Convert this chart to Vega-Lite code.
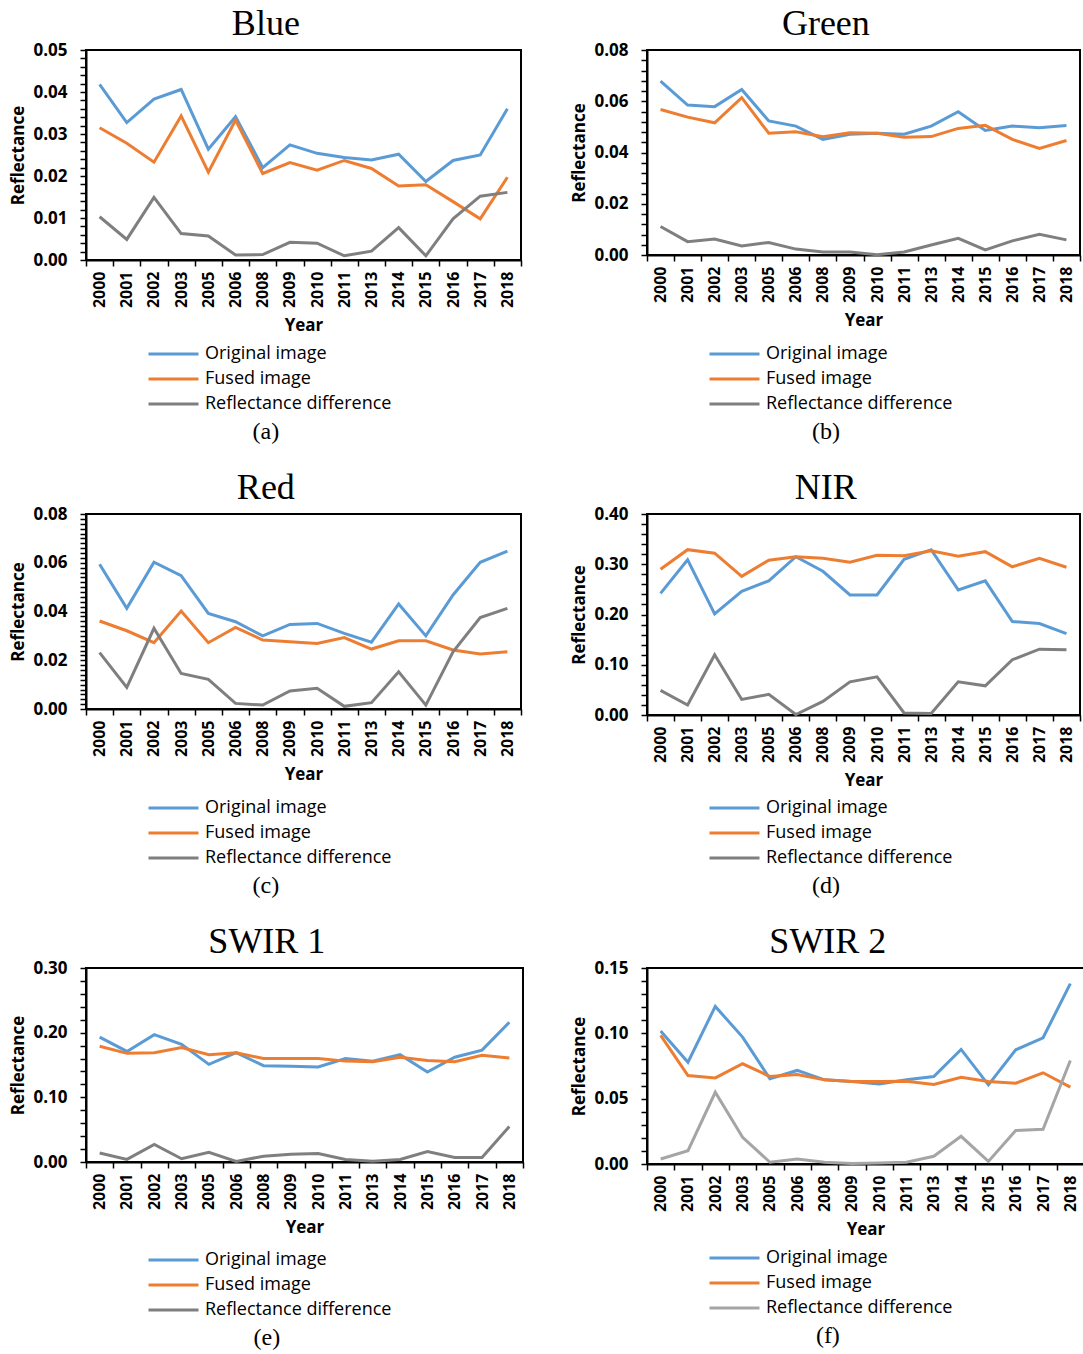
{
  "$schema": "https://vega.github.io/schema/vega-lite/v6.json",
  "padding": {"left": 8, "top": 5, "right": 0, "bottom": 0},
  "background": "white",
  "data": {"values": [
    {"band": "Blue", "year": "2000", "Original image": 0.0418, "Fused image": 0.0315, "Reflectance difference": 0.0103},
    {"band": "Blue", "year": "2001", "Original image": 0.0327, "Fused image": 0.0278, "Reflectance difference": 0.0049},
    {"band": "Blue", "year": "2002", "Original image": 0.0383, "Fused image": 0.0233, "Reflectance difference": 0.0149},
    {"band": "Blue", "year": "2003", "Original image": 0.0406, "Fused image": 0.0343, "Reflectance difference": 0.0063},
    {"band": "Blue", "year": "2005", "Original image": 0.0264, "Fused image": 0.0209, "Reflectance difference": 0.0057},
    {"band": "Blue", "year": "2006", "Original image": 0.0341, "Fused image": 0.0333, "Reflectance difference": 0.0012},
    {"band": "Blue", "year": "2008", "Original image": 0.0220, "Fused image": 0.0206, "Reflectance difference": 0.0013},
    {"band": "Blue", "year": "2009", "Original image": 0.0274, "Fused image": 0.0232, "Reflectance difference": 0.0042},
    {"band": "Blue", "year": "2010", "Original image": 0.0254, "Fused image": 0.0214, "Reflectance difference": 0.0040},
    {"band": "Blue", "year": "2011", "Original image": 0.0244, "Fused image": 0.0237, "Reflectance difference": 0.0010},
    {"band": "Blue", "year": "2013", "Original image": 0.0238, "Fused image": 0.0218, "Reflectance difference": 0.0021},
    {"band": "Blue", "year": "2014", "Original image": 0.0252, "Fused image": 0.0176, "Reflectance difference": 0.0077},
    {"band": "Blue", "year": "2015", "Original image": 0.0187, "Fused image": 0.0179, "Reflectance difference": 0.0010},
    {"band": "Blue", "year": "2016", "Original image": 0.0237, "Fused image": 0.0139, "Reflectance difference": 0.0098},
    {"band": "Blue", "year": "2017", "Original image": 0.0250, "Fused image": 0.0098, "Reflectance difference": 0.0152},
    {"band": "Blue", "year": "2018", "Original image": 0.0360, "Fused image": 0.0197, "Reflectance difference": 0.0161},

    {"band": "Green", "year": "2000", "Original image": 0.0679, "Fused image": 0.0568, "Reflectance difference": 0.0111},
    {"band": "Green", "year": "2001", "Original image": 0.0585, "Fused image": 0.0538, "Reflectance difference": 0.0052},
    {"band": "Green", "year": "2002", "Original image": 0.0579, "Fused image": 0.0516, "Reflectance difference": 0.0062},
    {"band": "Green", "year": "2003", "Original image": 0.0646, "Fused image": 0.0614, "Reflectance difference": 0.0035},
    {"band": "Green", "year": "2005", "Original image": 0.0523, "Fused image": 0.0475, "Reflectance difference": 0.0049},
    {"band": "Green", "year": "2006", "Original image": 0.0503, "Fused image": 0.0481, "Reflectance difference": 0.0023},
    {"band": "Green", "year": "2008", "Original image": 0.0451, "Fused image": 0.0462, "Reflectance difference": 0.0012},
    {"band": "Green", "year": "2009", "Original image": 0.0471, "Fused image": 0.0477, "Reflectance difference": 0.0012},
    {"band": "Green", "year": "2010", "Original image": 0.0475, "Fused image": 0.0475, "Reflectance difference": 0.0001},
    {"band": "Green", "year": "2011", "Original image": 0.0471, "Fused image": 0.0460, "Reflectance difference": 0.0012},
    {"band": "Green", "year": "2013", "Original image": 0.0503, "Fused image": 0.0462, "Reflectance difference": 0.0039},
    {"band": "Green", "year": "2014", "Original image": 0.0559, "Fused image": 0.0494, "Reflectance difference": 0.0065},
    {"band": "Green", "year": "2015", "Original image": 0.0486, "Fused image": 0.0506, "Reflectance difference": 0.0020},
    {"band": "Green", "year": "2016", "Original image": 0.0503, "Fused image": 0.0451, "Reflectance difference": 0.0055},
    {"band": "Green", "year": "2017", "Original image": 0.0497, "Fused image": 0.0416, "Reflectance difference": 0.0081},
    {"band": "Green", "year": "2018", "Original image": 0.0505, "Fused image": 0.0447, "Reflectance difference": 0.0059},

    {"band": "Red", "year": "2000", "Original image": 0.0594, "Fused image": 0.0361, "Reflectance difference": 0.0231},
    {"band": "Red", "year": "2001", "Original image": 0.0413, "Fused image": 0.0321, "Reflectance difference": 0.0089},
    {"band": "Red", "year": "2002", "Original image": 0.0602, "Fused image": 0.0272, "Reflectance difference": 0.0331},
    {"band": "Red", "year": "2003", "Original image": 0.0547, "Fused image": 0.0402, "Reflectance difference": 0.0146},
    {"band": "Red", "year": "2005", "Original image": 0.0392, "Fused image": 0.0272, "Reflectance difference": 0.0122},
    {"band": "Red", "year": "2006", "Original image": 0.0358, "Fused image": 0.0335, "Reflectance difference": 0.0023},
    {"band": "Red", "year": "2008", "Original image": 0.0300, "Fused image": 0.0283, "Reflectance difference": 0.0016},
    {"band": "Red", "year": "2009", "Original image": 0.0347, "Fused image": 0.0276, "Reflectance difference": 0.0074},
    {"band": "Red", "year": "2010", "Original image": 0.0351, "Fused image": 0.0269, "Reflectance difference": 0.0085},
    {"band": "Red", "year": "2011", "Original image": 0.0310, "Fused image": 0.0293, "Reflectance difference": 0.0011},
    {"band": "Red", "year": "2013", "Original image": 0.0274, "Fused image": 0.0246, "Reflectance difference": 0.0026},
    {"band": "Red", "year": "2014", "Original image": 0.0431, "Fused image": 0.0280, "Reflectance difference": 0.0153},
    {"band": "Red", "year": "2015", "Original image": 0.0300, "Fused image": 0.0280, "Reflectance difference": 0.0016},
    {"band": "Red", "year": "2016", "Original image": 0.0468, "Fused image": 0.0242, "Reflectance difference": 0.0235},
    {"band": "Red", "year": "2017", "Original image": 0.0602, "Fused image": 0.0226, "Reflectance difference": 0.0375},
    {"band": "Red", "year": "2018", "Original image": 0.0648, "Fused image": 0.0235, "Reflectance difference": 0.0413},

    {"band": "NIR", "year": "2000", "Original image": 0.242, "Fused image": 0.290, "Reflectance difference": 0.049},
    {"band": "NIR", "year": "2001", "Original image": 0.309, "Fused image": 0.329, "Reflectance difference": 0.020},
    {"band": "NIR", "year": "2002", "Original image": 0.201, "Fused image": 0.322, "Reflectance difference": 0.120},
    {"band": "NIR", "year": "2003", "Original image": 0.246, "Fused image": 0.276, "Reflectance difference": 0.031},
    {"band": "NIR", "year": "2005", "Original image": 0.267, "Fused image": 0.308, "Reflectance difference": 0.041},
    {"band": "NIR", "year": "2006", "Original image": 0.315, "Fused image": 0.315, "Reflectance difference": 0.001},
    {"band": "NIR", "year": "2008", "Original image": 0.286, "Fused image": 0.312, "Reflectance difference": 0.027},
    {"band": "NIR", "year": "2009", "Original image": 0.239, "Fused image": 0.304, "Reflectance difference": 0.066},
    {"band": "NIR", "year": "2010", "Original image": 0.239, "Fused image": 0.318, "Reflectance difference": 0.076},
    {"band": "NIR", "year": "2011", "Original image": 0.310, "Fused image": 0.317, "Reflectance difference": 0.004},
    {"band": "NIR", "year": "2013", "Original image": 0.329, "Fused image": 0.327, "Reflectance difference": 0.003},
    {"band": "NIR", "year": "2014", "Original image": 0.249, "Fused image": 0.316, "Reflectance difference": 0.066},
    {"band": "NIR", "year": "2015", "Original image": 0.267, "Fused image": 0.325, "Reflectance difference": 0.058},
    {"band": "NIR", "year": "2016", "Original image": 0.186, "Fused image": 0.295, "Reflectance difference": 0.110},
    {"band": "NIR", "year": "2017", "Original image": 0.182, "Fused image": 0.312, "Reflectance difference": 0.131},
    {"band": "NIR", "year": "2018", "Original image": 0.162, "Fused image": 0.294, "Reflectance difference": 0.130},

    {"band": "SWIR 1", "year": "2000", "Original image": 0.193, "Fused image": 0.179, "Reflectance difference": 0.014},
    {"band": "SWIR 1", "year": "2001", "Original image": 0.171, "Fused image": 0.168, "Reflectance difference": 0.004},
    {"band": "SWIR 1", "year": "2002", "Original image": 0.197, "Fused image": 0.169, "Reflectance difference": 0.027},
    {"band": "SWIR 1", "year": "2003", "Original image": 0.182, "Fused image": 0.177, "Reflectance difference": 0.005},
    {"band": "SWIR 1", "year": "2005", "Original image": 0.151, "Fused image": 0.166, "Reflectance difference": 0.015},
    {"band": "SWIR 1", "year": "2006", "Original image": 0.169, "Fused image": 0.169, "Reflectance difference": 0.001},
    {"band": "SWIR 1", "year": "2008", "Original image": 0.149, "Fused image": 0.160, "Reflectance difference": 0.009},
    {"band": "SWIR 1", "year": "2009", "Original image": 0.148, "Fused image": 0.160, "Reflectance difference": 0.012},
    {"band": "SWIR 1", "year": "2010", "Original image": 0.147, "Fused image": 0.160, "Reflectance difference": 0.013},
    {"band": "SWIR 1", "year": "2011", "Original image": 0.160, "Fused image": 0.156, "Reflectance difference": 0.004},
    {"band": "SWIR 1", "year": "2013", "Original image": 0.156, "Fused image": 0.155, "Reflectance difference": 0.001},
    {"band": "SWIR 1", "year": "2014", "Original image": 0.166, "Fused image": 0.162, "Reflectance difference": 0.004},
    {"band": "SWIR 1", "year": "2015", "Original image": 0.139, "Fused image": 0.157, "Reflectance difference": 0.016},
    {"band": "SWIR 1", "year": "2016", "Original image": 0.162, "Fused image": 0.155, "Reflectance difference": 0.007},
    {"band": "SWIR 1", "year": "2017", "Original image": 0.173, "Fused image": 0.165, "Reflectance difference": 0.007},
    {"band": "SWIR 1", "year": "2018", "Original image": 0.216, "Fused image": 0.161, "Reflectance difference": 0.055},

    {"band": "SWIR 2", "year": "2000", "Original image": 0.1017, "Fused image": 0.0984, "Reflectance difference": 0.0038},
    {"band": "SWIR 2", "year": "2001", "Original image": 0.0779, "Fused image": 0.0677, "Reflectance difference": 0.0102},
    {"band": "SWIR 2", "year": "2002", "Original image": 0.1206, "Fused image": 0.0659, "Reflectance difference": 0.0549},
    {"band": "SWIR 2", "year": "2003", "Original image": 0.0971, "Fused image": 0.0767, "Reflectance difference": 0.0204},
    {"band": "SWIR 2", "year": "2005", "Original image": 0.0652, "Fused image": 0.0670, "Reflectance difference": 0.0013},
    {"band": "SWIR 2", "year": "2006", "Original image": 0.0716, "Fused image": 0.0685, "Reflectance difference": 0.0038},
    {"band": "SWIR 2", "year": "2008", "Original image": 0.0644, "Fused image": 0.0644, "Reflectance difference": 0.0013},
    {"band": "SWIR 2", "year": "2009", "Original image": 0.0631, "Fused image": 0.0631, "Reflectance difference": 0.0003},
    {"band": "SWIR 2", "year": "2010", "Original image": 0.0613, "Fused image": 0.0631, "Reflectance difference": 0.0008},
    {"band": "SWIR 2", "year": "2011", "Original image": 0.0644, "Fused image": 0.0634, "Reflectance difference": 0.0013},
    {"band": "SWIR 2", "year": "2013", "Original image": 0.0670, "Fused image": 0.0608, "Reflectance difference": 0.0059},
    {"band": "SWIR 2", "year": "2014", "Original image": 0.0877, "Fused image": 0.0664, "Reflectance difference": 0.0212},
    {"band": "SWIR 2", "year": "2015", "Original image": 0.0606, "Fused image": 0.0631, "Reflectance difference": 0.0020},
    {"band": "SWIR 2", "year": "2016", "Original image": 0.0874, "Fused image": 0.0618, "Reflectance difference": 0.0256},
    {"band": "SWIR 2", "year": "2017", "Original image": 0.0966, "Fused image": 0.0698, "Reflectance difference": 0.0266},
    {"band": "SWIR 2", "year": "2018", "Original image": 0.1380, "Fused image": 0.0588, "Reflectance difference": 0.0792}
  ]},
  "config": {
    "view": {"stroke": "black", "strokeWidth": 2},
    "title": {"font": "Liberation Serif", "fontWeight": "normal", "color": "black", "frame": "bounds", "anchor": "middle"},
    "axis": {"grid": false, "domainColor": "black", "domainWidth": 2, "tickColor": "black", "tickWidth": 1.5, "tickSize": 6,
             "labelColor": "black", "labelFont": "Open Sans", "labelFontWeight": "bold",
             "titleColor": "black", "titleFont": "Open Sans", "titleFontWeight": "bold", "titleFontSize": 17},
    "axisX": {"labelAngle": -90, "tickBand": "extent", "labelPadding": 5, "titlePadding": 10, "labelFontSize": 16},
    "axisY": {"labelPadding": 13, "titlePadding": 5, "labelOverlap": false, "labelFontSize": 17},
    "legend": {"orient": "none", "legendX": 61, "title": null, "symbolType": "M-1,0H3", "symbolSize": 625, "symbolStrokeWidth": 3,
               "labelFont": "Open Sans", "labelFontSize": 18, "labelColor": "black", "labelOffset": 30, "padding": 0,
               "rowPadding": 2, "labelLimit": 400}
  },
  "columns": 2,
  "spacing": {"row": 25, "column": 44},
  "resolve": {"scale": {"x": "independent", "y": "independent", "color": "independent"}, "legend": {"color": "independent"}},
  "concat": [
    {
      "title": {"text": "(a)", "orient": "bottom", "fontSize": 24, "offset": 6},
      "resolve": {"scale": {"x": "independent", "y": "independent", "color": "independent"}, "legend": {"color": "independent"}},
      "vconcat": [{
        "title": {"text": "Blue", "fontSize": 36, "offset": -2},
        "width": 435, "height": 210,
        "transform": [{"filter": "datum.band === 'Blue'"}, {"fold": ["Original image", "Fused image", "Reflectance difference"], "as": ["series", "value"]}],
        "mark": {"type": "line", "strokeWidth": 3},
        "encoding": {
          "x": {"field": "year", "type": "ordinal", "bandPosition": 0.5, "scale": {"type": "band", "paddingInner": 0, "paddingOuter": 0}, "axis": {"title": "Year", "tickBand": "extent"}},
          "y": {"field": "value", "type": "quantitative", "scale": {"domain": [0, 0.05], "nice": false},
                "axis": {"title": "Reflectance", "values": [0,0.002,0.004,0.006,0.008,0.01,0.012,0.014,0.016,0.018,0.02,0.022,0.024,0.026,0.028,0.03,0.032,0.034,0.036,0.038,0.04,0.042,0.044,0.046,0.048,0.05],
                         "labelExpr": "abs(datum.value*100 - round(datum.value*100)) < 0.001 ? format(datum.value, '.2f') : ''"}},
          "color": {"field": "series", "type": "nominal", "scale": {"domain": ["Original image", "Fused image", "Reflectance difference"], "range": ["#5B9BD5", "#ED7D31", "#7F7F7F"]}, "legend": {"legendY": 290}}
        }
      }]
    },
    {
      "title": {"text": "(b)", "orient": "bottom", "fontSize": 24, "offset": 6},
      "resolve": {"scale": {"x": "independent", "y": "independent", "color": "independent"}, "legend": {"color": "independent"}},
      "vconcat": [{
        "title": {"text": "Green", "fontSize": 36, "offset": -2},
        "width": 433, "height": 205,
        "transform": [{"filter": "datum.band === 'Green'"}, {"fold": ["Original image", "Fused image", "Reflectance difference"], "as": ["series", "value"]}],
        "mark": {"type": "line", "strokeWidth": 3},
        "encoding": {
          "x": {"field": "year", "type": "ordinal", "bandPosition": 0.5, "scale": {"type": "band", "paddingInner": 0, "paddingOuter": 0}, "axis": {"title": "Year", "tickBand": "extent"}},
          "y": {"field": "value", "type": "quantitative", "scale": {"domain": [0, 0.08], "nice": false},
                "axis": {"title": "Reflectance", "values": [0,0.004,0.008,0.012,0.016,0.02,0.024,0.028,0.032,0.036,0.04,0.044,0.048,0.052,0.056,0.06,0.064,0.068,0.072,0.076,0.08],
                         "labelExpr": "abs(datum.value*50 - round(datum.value*50)) < 0.001 ? format(datum.value, '.2f') : ''"}},
          "color": {"field": "series", "type": "nominal", "scale": {"domain": ["Original image", "Fused image", "Reflectance difference"], "range": ["#5B9BD5", "#ED7D31", "#7F7F7F"]}, "legend": {"legendY": 290}}
        }
      }]
    },
    {
      "title": {"text": "(c)", "orient": "bottom", "fontSize": 24, "offset": 6},
      "resolve": {"scale": {"x": "independent", "y": "independent", "color": "independent"}, "legend": {"color": "independent"}},
      "vconcat": [{
        "title": {"text": "Red", "fontSize": 36, "offset": -2},
        "width": 435, "height": 195,
        "transform": [{"filter": "datum.band === 'Red'"}, {"fold": ["Original image", "Fused image", "Reflectance difference"], "as": ["series", "value"]}],
        "mark": {"type": "line", "strokeWidth": 3},
        "encoding": {
          "x": {"field": "year", "type": "ordinal", "bandPosition": 0.5, "scale": {"type": "band", "paddingInner": 0, "paddingOuter": 0}, "axis": {"title": "Year", "tickBand": "extent"}},
          "y": {"field": "value", "type": "quantitative", "scale": {"domain": [0, 0.08], "nice": false},
                "axis": {"title": "Reflectance", "values": [0,0.002,0.004,0.006,0.008,0.01,0.012,0.014,0.016,0.018,0.02,0.022,0.024,0.026,0.028,0.03,0.032,0.034,0.036,0.038,0.04,0.042,0.044,0.046,0.048,0.05,0.052,0.054,0.056,0.058,0.06,0.062,0.064,0.066,0.068,0.07,0.072,0.074,0.076,0.078,0.08],
                         "labelExpr": "abs(datum.value*50 - round(datum.value*50)) < 0.001 ? format(datum.value, '.2f') : ''"}},
          "color": {"field": "series", "type": "nominal", "scale": {"domain": ["Original image", "Fused image", "Reflectance difference"], "range": ["#5B9BD5", "#ED7D31", "#7F7F7F"]}, "legend": {"legendY": 280}}
        }
      }]
    },
    {
      "title": {"text": "(d)", "orient": "bottom", "fontSize": 24, "offset": 6},
      "resolve": {"scale": {"x": "independent", "y": "independent", "color": "independent"}, "legend": {"color": "independent"}},
      "vconcat": [{
        "title": {"text": "NIR", "fontSize": 36, "offset": -2},
        "width": 433, "height": 201,
        "transform": [{"filter": "datum.band === 'NIR'"}, {"fold": ["Original image", "Fused image", "Reflectance difference"], "as": ["series", "value"]}],
        "mark": {"type": "line", "strokeWidth": 3},
        "encoding": {
          "x": {"field": "year", "type": "ordinal", "bandPosition": 0.5, "scale": {"type": "band", "paddingInner": 0, "paddingOuter": 0}, "axis": {"title": "Year", "tickBand": "extent"}},
          "y": {"field": "value", "type": "quantitative", "scale": {"domain": [0, 0.4], "nice": false},
                "axis": {"title": "Reflectance", "values": [0,0.02,0.04,0.06,0.08,0.1,0.12,0.14,0.16,0.18,0.2,0.22,0.24,0.26,0.28,0.3,0.32,0.34,0.36,0.38,0.4],
                         "labelExpr": "abs(datum.value*10 - round(datum.value*10)) < 0.001 ? format(datum.value, '.2f') : ''"}},
          "color": {"field": "series", "type": "nominal", "scale": {"domain": ["Original image", "Fused image", "Reflectance difference"], "range": ["#5B9BD5", "#ED7D31", "#7F7F7F"]}, "legend": {"legendY": 280}}
        }
      }]
    },
    {
      "title": {"text": "(e)", "orient": "bottom", "fontSize": 24, "offset": 6},
      "resolve": {"scale": {"x": "independent", "y": "independent", "color": "independent"}, "legend": {"color": "independent"}},
      "vconcat": [{
        "title": {"text": "SWIR 1", "fontSize": 36, "offset": -2},
        "width": 437, "height": 194,
        "transform": [{"filter": "datum.band === 'SWIR 1'"}, {"fold": ["Original image", "Fused image", "Reflectance difference"], "as": ["series", "value"]}],
        "mark": {"type": "line", "strokeWidth": 3},
        "encoding": {
          "x": {"field": "year", "type": "ordinal", "bandPosition": 0.5, "scale": {"type": "band", "paddingInner": 0, "paddingOuter": 0}, "axis": {"title": "Year", "tickBand": "extent"}},
          "y": {"field": "value", "type": "quantitative", "scale": {"domain": [0, 0.3], "nice": false},
                "axis": {"title": "Reflectance", "values": [0,0.02,0.04,0.06,0.08,0.1,0.12,0.14,0.16,0.18,0.2,0.22,0.24,0.26,0.28,0.3],
                         "labelExpr": "abs(datum.value*10 - round(datum.value*10)) < 0.001 ? format(datum.value, '.2f') : ''"}},
          "color": {"field": "series", "type": "nominal", "scale": {"domain": ["Original image", "Fused image", "Reflectance difference"], "range": ["#5B9BD5", "#ED7D31", "#7F7F7F"]}, "legend": {"legendY": 278}}
        }
      }]
    },
    {
      "title": {"text": "(f)", "orient": "bottom", "fontSize": 24, "offset": 6},
      "resolve": {"scale": {"x": "independent", "y": "independent", "color": "independent"}, "legend": {"color": "independent"}},
      "vconcat": [{
        "title": {"text": "SWIR 2", "fontSize": 36, "offset": -2},
        "width": 437, "height": 196,
        "transform": [{"filter": "datum.band === 'SWIR 2'"}, {"fold": ["Original image", "Fused image", "Reflectance difference"], "as": ["series", "value"]}],
        "mark": {"type": "line", "strokeWidth": 3},
        "encoding": {
          "x": {"field": "year", "type": "ordinal", "bandPosition": 0.5, "scale": {"type": "band", "paddingInner": 0, "paddingOuter": 0}, "axis": {"title": "Year", "tickBand": "extent"}},
          "y": {"field": "value", "type": "quantitative", "scale": {"domain": [0, 0.15], "nice": false},
                "axis": {"title": "Reflectance", "values": [0,0.01,0.02,0.03,0.04,0.05,0.06,0.07,0.08,0.09,0.1,0.11,0.12,0.13,0.14,0.15],
                         "labelExpr": "abs(datum.value*20 - round(datum.value*20)) < 0.001 ? format(datum.value, '.2f') : ''"}},
          "color": {"field": "series", "type": "nominal", "scale": {"domain": ["Original image", "Fused image", "Reflectance difference"], "range": ["#5B9BD5", "#ED7D31", "#A5A5A5"]}, "legend": {"legendY": 276}}
        }
      }]
    }
  ]
}
